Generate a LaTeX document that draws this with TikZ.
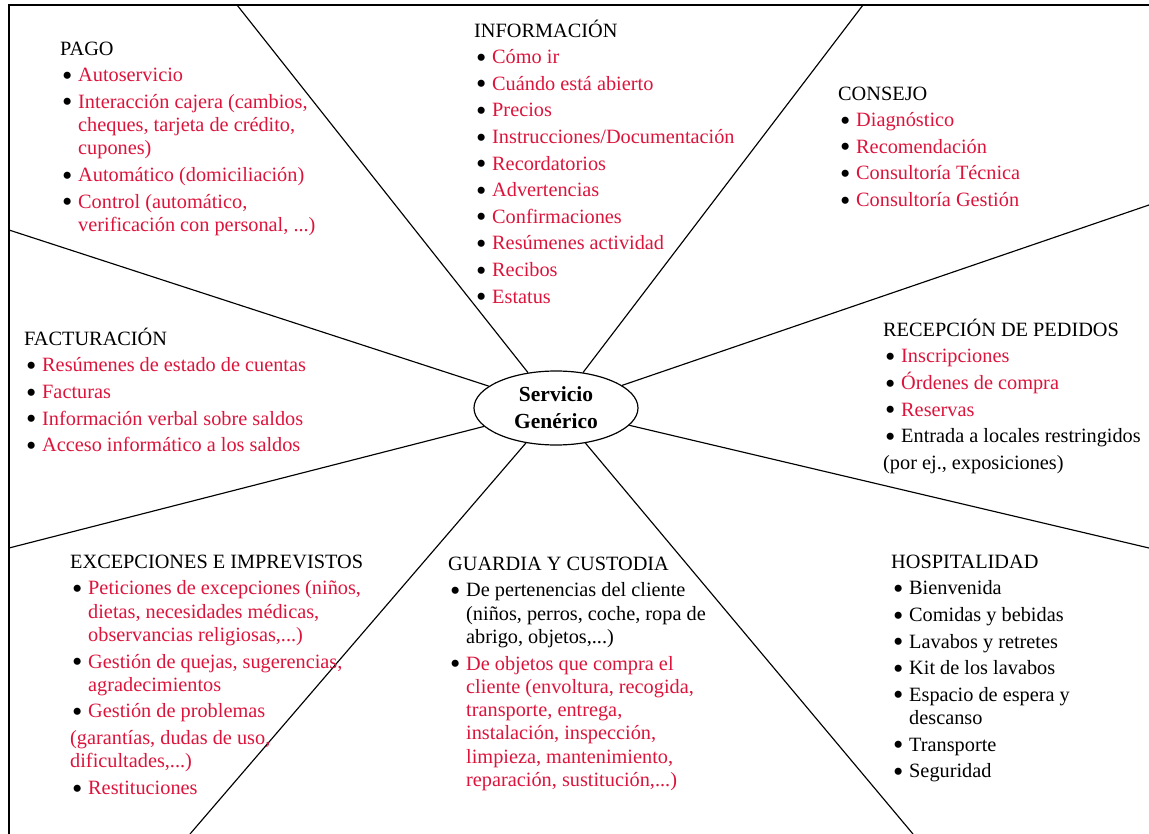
\documentclass[tikz,border=0pt]{standalone}
\usepackage{fontspec}
\usepackage{graphicx}
\setmainfont{Liberation Serif}
\usetikzlibrary{shapes.geometric}
\definecolor{myred}{RGB}{220,20,60}
\newcommand\bul{\hspace*{2pt}\makebox[16pt][l]{\raisebox{-3.6pt}{\scalebox{1.45}{\textbullet}}}}
\newcommand\hng{\hspace*{18pt}}
\newcommand\R[1]{\textcolor{myred}{#1}}
\newcommand\T[1]{\rule{0pt}{20pt}#1}
\begin{document}
\begin{tikzpicture}[x=1pt,y=-1pt,
  blk/.style={anchor=north west, align=left, inner sep=0pt, font=\fontsize{20.3}{23.3}\selectfont},
  spoke/.style={line width=1.15pt},
  frame/.style={line width=1.4pt}]
\useasboundingbox (0,0) rectangle (1149,834);
% frame
\coordinate (fbl) at (9,834);
\coordinate (ftl) at (9,5);
\coordinate (ftr) at (1149,5);
\draw[frame] (fbl) -- (ftl) -- (ftr);
% centre
\node[ellipse, draw, line width=1.2pt, minimum width=164pt, minimum height=74pt, inner sep=0pt,
  align=center, font=\bfseries\fontsize{21.5}{27}\selectfont] (c) at (556,408) {Servicio\\Genérico};
% spoke ends
\coordinate (p1) at (237,5);
\coordinate (p2) at (863,5);
\coordinate (p3) at (9,230);
\coordinate (p4) at (9,548);
\coordinate (p5) at (190,834);
\coordinate (p6) at (913,834);
\coordinate (p7) at (1149,205);
\coordinate (p8) at (1149,548);
\foreach \p in {p1,p2,p3,p4,p5,p6,p7,p8} \draw[spoke] (c) -- (\p);
% blocks (y = first baseline - 20)
\node[blk] (pago) at (60,35) {\T{PAGO}\\[3.3pt]
\bul\R{Autoservicio}\\[3.3pt]
\bul\R{Interacción cajera (cambios,}\\
\hng\R{cheques, tarjeta de crédito,}\\
\hng\R{cupones)}\\[3.3pt]
\bul\R{Automático (domiciliación)}\\[3.3pt]
\bul\R{Control (automático,}\\
\hng\R{verificación con personal, ...)}};
\node[blk] (info) at (474,17) {\T{INFORMACIÓN}\\[3.3pt]
\bul\R{Cómo ir}\\[3.3pt]
\bul\R{Cuándo está abierto}\\[3.3pt]
\bul\R{Precios}\\[3.3pt]
\bul\R{Instrucciones/Documentación}\\[3.3pt]
\bul\R{Recordatorios}\\[3.3pt]
\bul\R{Advertencias}\\[3.3pt]
\bul\R{Confirmaciones}\\[3.3pt]
\bul\R{Resúmenes actividad}\\[3.3pt]
\bul\R{Recibos}\\[3.3pt]
\bul\R{Estatus}};
\node[blk] (consejo) at (838,80) {\T{CONSEJO}\\[3.3pt]
\bul\R{Diagnóstico}\\[3.3pt]
\bul\R{Recomendación}\\[3.3pt]
\bul\R{Consultoría Técnica}\\[3.3pt]
\bul\R{Consultoría Gestión}};
\node[blk] (fact) at (24,325) {\T{FACTURACIÓN}\\[3.3pt]
\bul\R{Resúmenes de estado de cuentas}\\[3.3pt]
\bul\R{Facturas}\\[3.3pt]
\bul\R{Información verbal sobre saldos}\\[3.3pt]
\bul\R{Acceso informático a los saldos}};
\node[blk] (pedidos) at (883,316) {\T{RECEPCIÓN DE PEDIDOS}\\[3.3pt]
\bul\R{Inscripciones}\\[3.3pt]
\bul\R{Órdenes de compra}\\[3.3pt]
\bul\R{Reservas}\\[3.3pt]
\bul Entrada a locales restringidos\\[3.3pt]
(por ej., exposiciones)};
\node[blk] (excep) at (70,548) {\T{EXCEPCIONES E IMPREVISTOS}\\[3.3pt]
\bul\R{Peticiones de excepciones (niños,}\\
\hng\R{dietas, necesidades médicas,}\\
\hng\R{observancias religiosas,...)}\\[3.3pt]
\bul\R{Gestión de quejas, sugerencias,}\\
\hng\R{agradecimientos}\\[3.3pt]
\bul\R{Gestión de problemas}\\[3.3pt]
\R{(garantías, dudas de uso,}\\
\R{dificultades,...)}\\[3.3pt]
\bul\R{Restituciones}};
\node[blk] (guardia) at (448,550) {\T{GUARDIA Y CUSTODIA}\\[3.3pt]
\bul De pertenencias del cliente\\
\hng(niños, perros, coche, ropa de\\
\hng abrigo, objetos,...)\\[3.3pt]
\bul\R{De objetos que compra el}\\
\hng\R{cliente (envoltura, recogida,}\\
\hng\R{transporte, entrega,}\\
\hng\R{instalación, inspección,}\\
\hng\R{limpieza, mantenimiento,}\\
\hng\R{reparación, sustitución,...)}};
\node[blk] (hosp) at (891,548) {\T{HOSPITALIDAD}\\[3.3pt]
\bul Bienvenida\\[3.3pt]
\bul Comidas y bebidas\\[3.3pt]
\bul Lavabos y retretes\\[3.3pt]
\bul Kit de los lavabos\\[3.3pt]
\bul Espacio de espera y\\
\hng descanso\\[3.3pt]
\bul Transporte\\[3.3pt]
\bul Seguridad};
\end{tikzpicture}
\end{document}
